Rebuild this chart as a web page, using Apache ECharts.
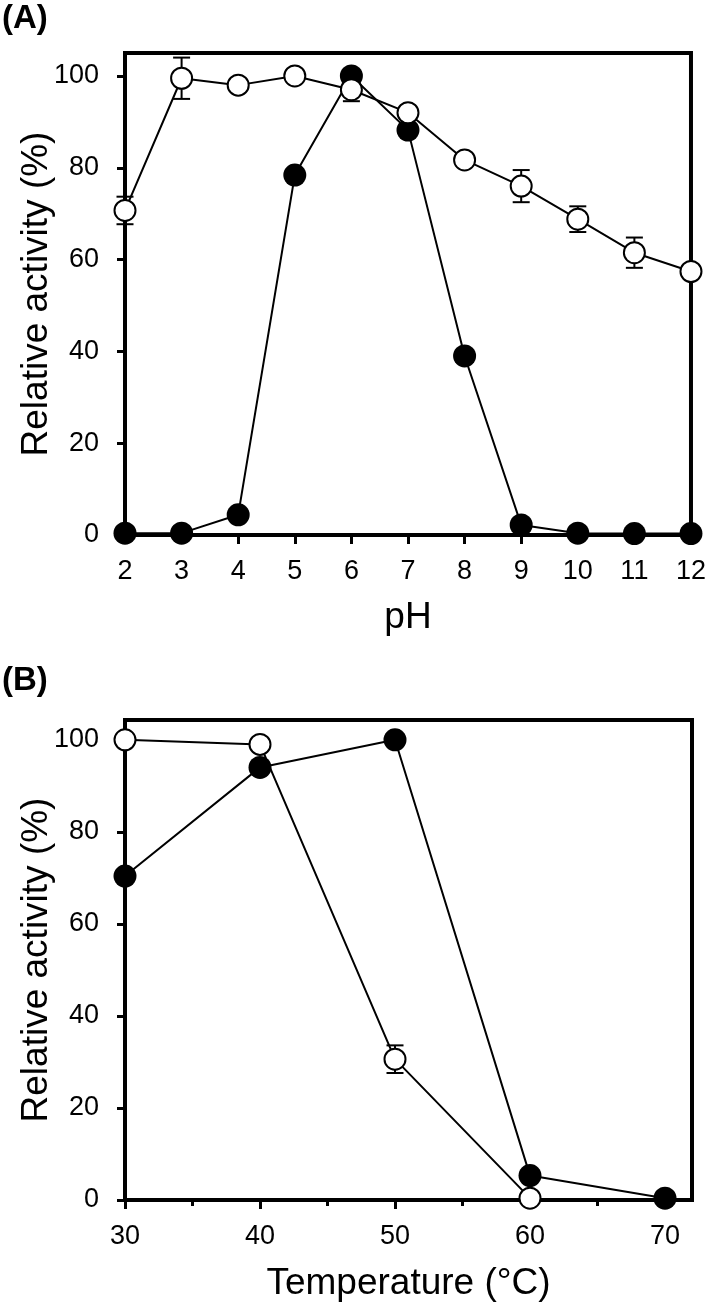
<!DOCTYPE html>
<html>
<head>
<meta charset="utf-8">
<script src="https://cdn.jsdelivr.net/npm/echarts@6/dist/echarts.min.js"></script>
<style>
html,body{margin:0;padding:0;background:#fff;}
#chart{width:709px;height:1308px;}
</style>
</head>
<body>
<div id="chart"></div>
<script>
// ---- Data ----
var phValues = [2, 3, 4, 5, 6, 7, 8, 9, 10, 11, 12];
var phFilled = [0.4, 0.4, 4.4, 78.4, 100, 88.2, 39, 2.2, 0.4, 0.3, 0.3];
var phOpen = [70.7, 99.5, 98, 100, 97, 92, 81.7, 76, 68.8, 61.5, 57.4];
var phOpenErr = [3, 4.5, 0, 0, 2.5, 0, 0, 3.5, 2.8, 3.3, 0];

var tempValues = [30, 40, 50, 60, 70];
var tempFilled = [70.4, 94, 100, 5.3, 0.4];
var tempOpen = [100, 99, 30.6, 0.4];
var tempOpenErr = [0, 0, 3, 0];

var yTickLabels = [0, 20, 40, 60, 80, 100];
var phTickLabels = [2, 3, 4, 5, 6, 7, 8, 9, 10, 11, 12];
var tempTickLabels = [30, 40, 50, 60, 70];
var tempMinorTicks = [35, 45, 55, 65];

// ---- Build ----
var FONT = "'Liberation Sans', Arial, sans-serif";
function pairs(xs, ys) { return ys.map(function (v, i) { return [xs[i], v]; }); }
function errData(xs, ys, es) {
  var out = [];
  ys.forEach(function (v, i) { if (es[i] > 0) out.push([xs[i], v - es[i], v + es[i]]); });
  return out;
}
function errRender(params, api) {
  var x = api.value(0), lo = api.value(1), hi = api.value(2);
  var pLo = api.coord([x, lo]), pHi = api.coord([x, hi]);
  var hw = 8.5;
  var st = { stroke: '#000', lineWidth: 2, fill: null };
  return {
    type: 'group',
    children: [
      { type: 'line', shape: { x1: pLo[0], y1: pLo[1], x2: pHi[0], y2: pHi[1] }, style: st },
      { type: 'line', shape: { x1: pLo[0] - hw, y1: pLo[1], x2: pLo[0] + hw, y2: pLo[1] }, style: st },
      { type: 'line', shape: { x1: pHi[0] - hw, y1: pHi[1], x2: pHi[0] + hw, y2: pHi[1] }, style: st }
    ]
  };
}
var axisLine = { show: true, lineStyle: { color: '#000', width: 4 } };
function yAxisCfg(gi, maxV) {
  return {
    type: 'value', gridIndex: gi, min: 0, max: maxV,
    axisLine: axisLine,
    axisTick: { show: true, length: 8, lineStyle: { color: '#000', width: 3 }, customValues: yTickLabels },
    axisLabel: { color: '#000', fontSize: 27, fontFamily: FONT, margin: 26, customValues: yTickLabels },
    splitLine: { show: false },
    name: 'Relative activity (%)', nameLocation: 'middle', nameGap: 70, nameMoveOverlap: false,
    nameTextStyle: { color: '#000', fontSize: 37, fontFamily: FONT }
  };
}

var option = {
  animation: false,
  backgroundColor: '#fff',
  grid: [
    { left: 125, top: 53, width: 567, height: 482, show: true, borderColor: '#000', borderWidth: 4, backgroundColor: 'transparent' },
    { left: 125, top: 720, width: 567, height: 480, show: true, borderColor: '#000', borderWidth: 4, backgroundColor: 'transparent' }
  ],
  xAxis: [
    {
      type: 'value', gridIndex: 0, min: 2, max: 12, interval: 1,
      axisLine: axisLine,
      axisTick: { show: true, length: 9, lineStyle: { color: '#000', width: 3 } },
      axisLabel: { color: '#000', fontSize: 27, fontFamily: FONT, margin: 23, customValues: phTickLabels },
      splitLine: { show: false },
      name: 'pH', nameLocation: 'middle', nameGap: 64,
      nameTextStyle: { color: '#000', fontSize: 37, fontFamily: FONT }
    },
    {
      type: 'value', gridIndex: 1, min: 30, max: 72,
      axisLine: axisLine,
      axisTick: { show: true, length: 9, lineStyle: { color: '#000', width: 3 }, customValues: tempTickLabels },
      axisLabel: { color: '#000', fontSize: 27, fontFamily: FONT, margin: 23, customValues: tempTickLabels },
      splitLine: { show: false },
      name: 'Temperature (°C)', nameLocation: 'middle', nameGap: 65,
      nameTextStyle: { color: '#000', fontSize: 37, fontFamily: FONT }
    },
    {
      type: 'value', gridIndex: 1, min: 30, max: 72, position: 'bottom',
      axisLine: { show: false },
      axisTick: { show: true, length: 6, lineStyle: { color: '#000', width: 3 }, customValues: tempMinorTicks },
      axisLabel: { show: false },
      splitLine: { show: false }
    }
  ],
  yAxis: [yAxisCfg(0, 105), yAxisCfg(1, 104.3)],
  graphic: [
    { type: 'text', left: 2, top: 2, style: { text: '(A)', font: "bold 33px " + FONT, fill: '#000' } },
    { type: 'text', left: 2, top: 664, style: { text: '(B)', font: "bold 33px " + FONT, fill: '#000' } }
  ],
  series: [
    {
      type: 'custom', xAxisIndex: 0, yAxisIndex: 0, z: 1,
      renderItem: errRender, data: errData(phValues, phOpen, phOpenErr),
      encode: { x: 0, y: [1, 2] }
    },
    {
      type: 'line', xAxisIndex: 0, yAxisIndex: 0, z: 2,
      data: pairs(phValues, phFilled),
      symbol: 'circle', symbolSize: 23, showAllSymbol: true,
      lineStyle: { color: '#000', width: 2 },
      itemStyle: { color: '#000', borderColor: '#000', borderWidth: 0 }
    },
    {
      type: 'line', xAxisIndex: 0, yAxisIndex: 0, z: 3,
      data: pairs(phValues, phOpen),
      symbol: 'circle', symbolSize: 21, showAllSymbol: true,
      lineStyle: { color: '#000', width: 2 },
      itemStyle: { color: '#fff', borderColor: '#000', borderWidth: 2 }
    },
    {
      type: 'custom', xAxisIndex: 1, yAxisIndex: 1, z: 1,
      renderItem: errRender, data: errData(tempValues, tempOpen, tempOpenErr),
      encode: { x: 0, y: [1, 2] }
    },
    {
      type: 'line', xAxisIndex: 1, yAxisIndex: 1, z: 2,
      data: pairs(tempValues, tempFilled),
      symbol: 'circle', symbolSize: 23, showAllSymbol: true,
      lineStyle: { color: '#000', width: 2 },
      itemStyle: { color: '#000', borderColor: '#000', borderWidth: 0 }
    },
    {
      type: 'line', xAxisIndex: 1, yAxisIndex: 1, z: 3,
      data: pairs(tempValues, tempOpen),
      symbol: 'circle', symbolSize: 21, showAllSymbol: true,
      lineStyle: { color: '#000', width: 2 },
      itemStyle: { color: '#fff', borderColor: '#000', borderWidth: 2 }
    }
  ]
};
var chart = echarts.init(document.getElementById('chart'), null, { renderer: 'canvas' });
chart.setOption(option);
</script>
</body>
</html>
